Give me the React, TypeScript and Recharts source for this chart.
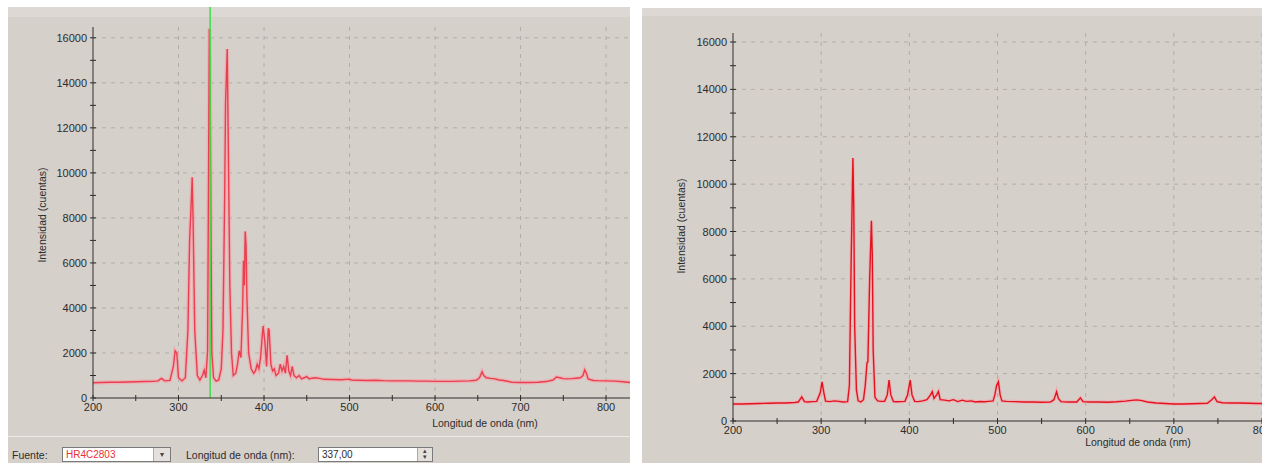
import React from 'react'
import {
    LineChart,
    Line,
    XAxis,
    YAxis,
    CartesianGrid,
    ReferenceLine,
    Label
} from 'recharts'

// spectrum 1 (left panel)
const nmA = [
    200, 210, 220, 230, 240, 250, 260, 270, 276, 280, 284, 290, 294, 296, 298, 300, 304, 308, 311, 313,
    315, 316, 317, 319, 322, 325, 328, 330, 332, 334, 335, 336, 337, 338, 339, 341, 344, 347, 350, 352,
    354, 355, 357, 358, 360, 362, 364, 367, 369, 371, 373, 375, 376, 377, 378, 379, 380, 382, 385, 388,
    390, 392, 394, 396, 398, 399, 401, 403, 405, 406, 408, 410, 412, 414, 417, 419, 421, 423, 425, 427,
    429, 431, 433, 435, 438, 441, 444, 447, 450, 453, 456, 460, 465, 470, 480, 490, 500, 502, 510, 520,
    530, 540, 550, 560, 570, 580, 590, 600, 610, 620, 630, 640, 648, 652, 655, 657, 660, 665, 670, 675,
    680, 690, 700, 710, 720, 730, 738, 742, 746, 750, 755, 760, 765, 770, 773, 775, 777, 779, 785, 790,
    800, 810, 820, 828
]
const countsA = [
    680, 690, 700, 700, 710, 720, 730, 740, 760, 870, 760, 780, 1400, 2100, 2000, 900, 760, 900, 3000, 7000,
    8800, 9800, 8000, 3000, 1000, 800, 1000, 1240, 900, 2100, 9000, 16400, 14000, 7000, 2000, 900, 750, 800, 1300, 3000,
    9000, 13100, 15500, 12000, 5000, 2000, 1000, 1100, 1500, 2100, 1800, 4000, 6100, 5000, 7400, 6800, 4500, 2000, 1300, 1100,
    1200, 1500, 1300, 1800, 2800, 3200, 2500, 1400, 3100, 3000, 1500, 1200, 1300, 1000, 1100, 1500, 1200, 1400, 1100, 1900,
    1200, 1000, 1400, 1000, 900, 1000, 850, 900, 950, 850, 880, 900, 870, 830, 820, 810, 840, 800, 790, 780,
    790, 770, 760, 760, 760, 750, 750, 740, 740, 740, 750, 760, 790, 900, 1170, 1000, 900, 870, 850, 800,
    780, 700, 690, 690, 700, 730, 800, 930, 900, 860, 850, 860, 880, 900, 1000, 1250, 1100, 850, 780, 770,
    760, 750, 720, 690
]

// spectrum 2 (right panel)
const nmB = [
    200, 210, 220, 230, 240, 250, 260, 270, 274, 278, 281, 285, 290, 295, 299, 301, 303, 305, 310, 315,
    320, 325, 330, 332, 334, 336, 337, 338, 340, 342, 345, 348, 350, 352, 353, 355, 357, 358, 359, 361,
    364, 368, 372, 375, 377, 379, 382, 386, 390, 395, 398, 401, 403, 406, 410, 415, 420, 424, 426, 428,
    431, 433, 435, 440, 445, 450, 455, 460, 465, 470, 475, 480, 485, 490, 495, 497, 499, 501, 503, 505,
    510, 520, 530, 540, 550, 560, 564, 567, 569, 572, 580, 590, 594, 597, 605, 615, 625, 635, 645, 652,
    658, 664, 670, 680, 690, 700, 710, 720, 730, 738, 743, 746, 749, 755, 765, 775, 785, 795, 800
]
const countsB = [
    720, 720, 730, 740, 750, 760, 760, 780, 800, 1020, 820, 800, 820, 830, 1200, 1650, 1200, 840, 820, 850,
    830, 800, 820, 1500, 6700, 11100, 9000, 4000, 1300, 850, 800, 900, 1500, 2450, 2500, 6000, 8450, 7000, 3000, 1000,
    850, 830, 830, 1100, 1730, 1100, 820, 810, 820, 830, 1100, 1730, 1100, 830, 820, 850, 900, 1100, 1240, 950,
    1100, 1240, 900, 880, 850, 900, 820, 880, 830, 850, 800, 820, 810, 830, 850, 1100, 1500, 1660, 1100, 850,
    830, 820, 800, 800, 790, 800, 900, 1240, 950, 820, 800, 800, 980, 820, 800, 800, 790, 810, 840, 870,
    890, 860, 800, 760, 740, 720, 720, 730, 740, 750, 900, 1020, 820, 770, 760, 760, 750, 740, 740
]

const xTicks = [200, 250, 300, 350, 400, 450, 500, 550, 600, 650, 700, 750, 800]
const xGrid = [300, 400, 500, 600, 700, 800]
const yTicks = [0, 1000, 2000, 3000, 4000, 5000, 6000, 7000, 8000, 9000, 10000, 11000, 12000, 13000, 14000, 15000, 16000]
const yGrid = [2000, 4000, 6000, 8000, 10000, 12000, 14000, 16000]
const selectedNm = 337

const dataA = nmA.map((x, i) => ({ x, y: countsA[i] }))
const dataB = nmB.map((x, i) => ({ x, y: countsB[i] }))

const font = '"Liberation Sans", Arial, sans-serif'
const ink = '#2c2c2c'
const panelBg = '#d6d0cb'

const YTick = (props: any) => {
    const { x, y, payload } = props
    const major = payload.value % 2000 === 0
    return (
        <g>
            <line x1={x - 3} x2={x + 3} y1={y} y2={y} stroke={ink} />
            {major && (
                <text x={x - 6} y={y} dy={4} textAnchor="end" fontSize={11} fontFamily={font} fill={ink}>
                    {payload.value}
                </text>
            )}
        </g>
    )
}

const XTick = (props: any) => {
    const { x, y, payload } = props
    const major = payload.value % 100 === 0
    return (
        <g>
            <line x1={x} x2={x} y1={y - 3} y2={y + 3} stroke={ink} />
            {major && (
                <text x={x} y={y + 13} textAnchor="middle" fontSize={11} fontFamily={font} fill={ink}>
                    {payload.value}
                </text>
            )}
        </g>
    )
}

const axisTitle = (text: string, x: number, y: number, rotate: boolean) => () => (
    <text
        x={x}
        y={y}
        textAnchor="middle"
        fontSize={10.5}
        fontFamily={font}
        fill={ink}
        transform={rotate ? `rotate(-90 ${x} ${y})` : undefined}
    >
        {text}
    </text>
)

export default function App() {
    return (
        <div style={{ position: 'absolute', left: 0, top: 0, width: 1262, height: 463, background: '#fff', overflow: 'hidden', fontFamily: font }}>
            {/* left panel */}
            <div style={{ position: 'absolute', left: 8, top: 7, width: 622, height: 456, background: panelBg }}>
                <div style={{ position: 'absolute', left: 0, top: 0, width: 622, height: 10, background: '#ddd8d3' }} />
                <div style={{ position: 'absolute', left: 0, top: 0 }}>
                    <LineChart width={622} height={430} data={dataA} margin={{ top: 20, right: 0, bottom: 0, left: 0 }}>
                        <CartesianGrid horizontalValues={yGrid} verticalValues={xGrid} stroke="#b3ada8" strokeDasharray="4 5" />
                        <XAxis dataKey="x" type="number" domain={[200, 828]} ticks={xTicks} interval={0} height={39}
                            tick={XTick} tickLine={false} tickSize={0} tickMargin={0} axisLine={{ stroke: ink }} allowDataOverflow>
                            <Label value="Longitud de onda (nm)" content={axisTitle('Longitud de onda (nm)', 477, 420, false)} />
                        </XAxis>
                        <YAxis type="number" domain={[0, 16480]} ticks={yTicks} interval={0} width={85}
                            tick={YTick} tickLine={false} tickSize={0} tickMargin={0} axisLine={{ stroke: ink }} allowDataOverflow>
                            <Label value="Intensidad (cuentas)" content={axisTitle('Intensidad (cuentas)', 38, 208, true)} />
                        </YAxis>
                        <Line dataKey="y" type="linear" dot={false} stroke="#f4a7ac" strokeWidth={4} strokeOpacity={0.7} isAnimationActive={false} />
                        <Line dataKey="y" type="linear" dot={false} stroke="#e8404f" strokeWidth={1.4} isAnimationActive={false} />
                        <ReferenceLine segment={[{ x: selectedNm, y: 0 }, { x: selectedNm, y: 17370 }]} stroke="#3ddc4a" strokeWidth={1.5} ifOverflow="visible" />
                    </LineChart>
                </div>
                {/* control bar */}
                <div style={{ position: 'absolute', left: 0, top: 429, width: 622, height: 1, background: '#eeeae6' }} />
                <div style={{ position: 'absolute', left: 4, top: 442, fontSize: 10.5, color: ink }}>Fuente:</div>
                <div style={{ position: 'absolute', left: 54, top: 440, width: 109, height: 15, background: '#fff', border: '1px solid #7a7a7a', boxSizing: 'border-box' }}>
                    <span style={{ position: 'absolute', left: 3, top: 1, fontSize: 10, color: '#e8303a' }}>HR4C2803</span>
                    <span style={{ position: 'absolute', right: 0, top: 0, width: 16, height: 13, background: '#e4e0dc', borderLeft: '1px solid #aaa', fontSize: 8, textAlign: 'center', lineHeight: '13px', color: '#444' }}>▾</span>
                </div>
                <div style={{ position: 'absolute', left: 178, top: 442, fontSize: 10.5, color: ink }}>Longitud de onda (nm):</div>
                <div style={{ position: 'absolute', left: 310, top: 440, width: 115, height: 15, background: '#fff', border: '1px solid #7a7a7a', boxSizing: 'border-box' }}>
                    <span style={{ position: 'absolute', left: 3, top: 1, fontSize: 10, color: ink }}>337,00</span>
                    <span style={{ position: 'absolute', right: 0, top: 0, width: 14, height: 13, background: '#e4e0dc', borderLeft: '1px solid #aaa', fontSize: 7, textAlign: 'center', lineHeight: '6px', color: '#444' }}>▴<br />▾</span>
                </div>
            </div>

            {/* right panel */}
            <div style={{ position: 'absolute', left: 642, top: 8, width: 620, height: 455, background: panelBg }}>
                <div style={{ position: 'absolute', left: 0, top: 0, width: 620, height: 8, background: '#ddd8d3' }} />
                <div style={{ position: 'absolute', left: 0, top: 0 }}>
                    <LineChart width={620} height={455} data={dataB} margin={{ top: 25, right: 0, bottom: 0, left: 0 }}>
                        <CartesianGrid horizontalValues={yGrid} verticalValues={xGrid} stroke="#b3ada8" strokeDasharray="4 5" />
                        <XAxis dataKey="x" type="number" domain={[200, 800]} ticks={xTicks} interval={0} height={42}
                            tick={XTick} tickLine={false} tickSize={0} tickMargin={0} axisLine={{ stroke: ink }} allowDataOverflow>
                            <Label value="Longitud de onda (nm)" content={axisTitle('Longitud de onda (nm)', 496, 438, false)} />
                        </XAxis>
                        <YAxis type="number" domain={[0, 16380]} ticks={yTicks} interval={0} width={91}
                            tick={YTick} tickLine={false} tickSize={0} tickMargin={0} axisLine={{ stroke: ink }} allowDataOverflow>
                            <Label value="Intensidad (cuentas)" content={axisTitle('Intensidad (cuentas)', 43, 218, true)} />
                        </YAxis>
                        <Line dataKey="y" type="linear" dot={false} stroke="#f4a7ac" strokeWidth={3.5} strokeOpacity={0.7} isAnimationActive={false} />
                        <Line dataKey="y" type="linear" dot={false} stroke="#e0141f" strokeWidth={1.4} isAnimationActive={false} />
                    </LineChart>
                </div>
            </div>
        </div>
    )
}
